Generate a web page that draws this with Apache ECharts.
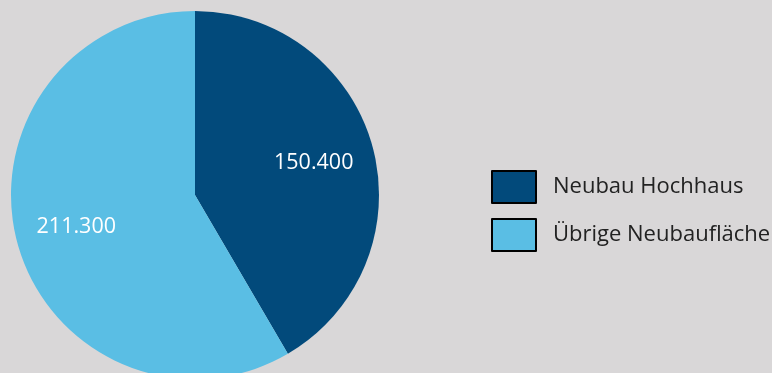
<!DOCTYPE html>
<html><head><meta charset="utf-8">
<script src="https://cdn.jsdelivr.net/npm/echarts@6/dist/echarts.min.js"></script>
<style>html,body{margin:0;padding:0;background:#d9d7d8;}#c{width:772px;height:373px;}</style>
</head><body><div id="c"></div>
<script>
const categories = ["Neubau Hochhaus", "Übrige Neubaufläche"];
const values = [150.4, 211.3];
const labels = ["150.400", "211.300"];
const colors = ["#024a7b", "#5abee4"];

const chart = echarts.init(document.getElementById('c'));
const data = categories.map((n, i) => ({ name: n, value: values[i], itemStyle: { color: colors[i] } }));
chart.setOption({
  backgroundColor: '#d9d7d8',
  animation: false,
  legend: {
    orient: 'vertical', left: 486, top: 165,
    itemWidth: 44, itemHeight: 32, itemGap: 14,
    icon: 'rect',
    itemStyle: { borderColor: '#000', borderWidth: 2 },
    textStyle: { fontFamily: 'Open Sans', fontSize: 22, color: '#222', padding: [0, 0, 0, 12] },
    data: categories
  },
  series: [{
    type: 'pie', center: [195, 195], radius: [0, 184], startAngle: 90, clockwise: true,
    label: { show: false }, labelLine: { show: false }, emphasis: { disabled: true },
    data: data
  }, {
    type: 'pie', center: [195, 195], radius: [56, 184], startAngle: 90, clockwise: true,
    silent: true, emphasis: { disabled: true },
    itemStyle: { color: 'rgba(0,0,0,0)' },
    label: { show: true, position: 'inside', fontFamily: 'Open Sans', fontSize: 21.5, color: '#fff',
      formatter: p => labels[p.dataIndex] },
    labelLine: { show: false },
    data: categories.map((n, i) => ({ name: n + ' ', value: values[i], itemStyle: { color: 'rgba(0,0,0,0)' } }))
  }]
});
</script></body></html>
